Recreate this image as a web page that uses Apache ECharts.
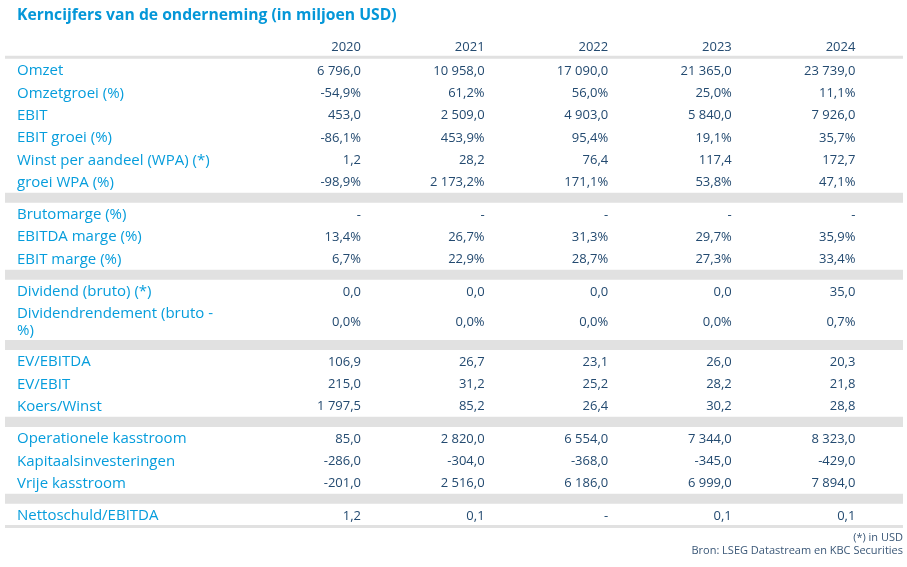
<!DOCTYPE html>
<html>
<head>
<meta charset="utf-8">
<script src="https://cdn.jsdelivr.net/npm/echarts@6/dist/echarts.min.js"></script>
<style>html,body{margin:0;padding:0;background:#fff;}#chart{width:907px;height:567px;}</style>
</head>
<body>
<div id="chart"></div>
<script>
// ---- data ----
var years = ['2020', '2021', '2022', '2023', '2024'];
var rowLabels = [
  'Omzet', 'Omzetgroei (%)', 'EBIT', 'EBIT groei (%)', 'Winst per aandeel (WPA) (*)', 'groei WPA (%)',
  'Brutomarge (%)', 'EBITDA marge (%)', 'EBIT marge (%)',
  'Dividend (bruto) (*)', 'Dividendrendement (bruto -\n%)',
  'EV/EBITDA', 'EV/EBIT', 'Koers/Winst',
  'Operationele kasstroom', 'Kapitaalsinvesteringen', 'Vrije kasstroom',
  'Nettoschuld/EBITDA'
];
var percentRows = [false, true, false, true, false, true, true, true, true, false, true, false, false, false, false, false, false, false];
var sectionSizes = [6, 3, 2, 3, 3, 1];
var tallRows = [10];
var v2020 = [6796.0, -54.9, 453.0, -86.1, 1.2, -98.9, null, 13.4, 6.7, 0.0, 0.0, 106.9, 215.0, 1797.5, 85.0, -286.0, -201.0, 1.2];
var v2021 = [10958.0, 61.2, 2509.0, 453.9, 28.2, 2173.2, null, 26.7, 22.9, 0.0, 0.0, 26.7, 31.2, 85.2, 2820.0, -304.0, 2516.0, 0.1];
var v2022 = [17090.0, 56.0, 4903.0, 95.4, 76.4, 171.1, null, 31.3, 28.7, 0.0, 0.0, 23.1, 25.2, 26.4, 6554.0, -368.0, 6186.0, null];
var v2023 = [21365.0, 25.0, 5840.0, 19.1, 117.4, 53.8, null, 29.7, 27.3, 0.0, 0.0, 26.0, 28.2, 30.2, 7344.0, -345.0, 6999.0, 0.1];
var v2024 = [23739.0, 11.1, 7926.0, 35.7, 172.7, 47.1, null, 35.9, 33.4, 35.0, 0.7, 20.3, 21.8, 28.8, 8323.0, -429.0, 7894.0, 0.1];
var yearValues = [v2020, v2021, v2022, v2023, v2024];
var titleText = 'Kerncijfers van de onderneming (in miljoen USD)';
var footnoteLines = ['(*) in USD', 'Bron: LSEG Datastream en KBC Securities'];

// ---- layout (in row units) ----
var BAND = 0.45, TALL = 1.7;
var rowY = [], bandY = [];
var cursor = 0.58; // top of first row (header centre = 0)
var idx = 0;
sectionSizes.forEach(function (n, s) {
  for (var k = 0; k < n; k++) {
    var h = tallRows.indexOf(idx) >= 0 ? TALL : 1;
    rowY.push(cursor + h / 2);
    cursor += h;
    idx++;
  }
  if (s < sectionSizes.length - 1) {
    bandY.push(cursor + BAND / 2);
    cursor += BAND;
  }
});
var lineY = [0.5, cursor + 0.02];
var X_MAX = 7.265, LABEL_X = 0.097, FIRST_COL = 2.88;

function fmt(v, pct) {
  if (v === null || v === undefined) return '-';
  var neg = v < 0;
  var s = Math.abs(v).toFixed(1).split('.');
  var intPart = s[0].replace(/\B(?=(\d{3})+(?!\d))/g, ' ');
  return (neg ? '-' : '') + intPart + ',' + s[1] + (pct ? '%' : '');
}

var labelColor = '#069ddc';
var titleColor = '#0497d8';
var valueColor = '#234a70';
var footColor = '#3a5777';
var bandColor = '#e1e1e1';
var FONT = '"Open Sans", sans-serif';

var series = [];
// gray separator bands
series.push({
  type: 'custom', silent: true, clip: false, z: 1,
  data: bandY.map(function (y) { return [y, BAND]; }),
  renderItem: function (params, api) {
    var y = api.value(0), h = api.value(1);
    var p0 = api.coord([0, y - h / 2]);
    var p1 = api.coord([X_MAX, y + h / 2]);
    return { type: 'rect', shape: { x: p0[0], y: p0[1], width: p1[0] - p0[0], height: p1[1] - p0[1] }, style: { fill: bandColor } };
  }
});
// header/bottom lines
series.push({
  type: 'custom', silent: true, clip: false, z: 1,
  data: lineY.map(function (y) { return [y]; }),
  renderItem: function (params, api) {
    var p0 = api.coord([0, api.value(0)]);
    var p1 = api.coord([X_MAX, api.value(0)]);
    return { type: 'rect', shape: { x: p0[0], y: p0[1] - 1.5, width: p1[0] - p0[0], height: 3 }, style: { fill: bandColor } };
  }
});
// row labels
series.push({
  type: 'custom', silent: true, clip: false, z: 3,
  data: rowLabels.map(function (l, i) { return [LABEL_X, rowY[i]]; }),
  renderItem: function (params, api) {
    var p = api.coord([api.value(0), api.value(1)]);
    return { type: 'text', x: p[0], y: p[1] + 1, style: { text: rowLabels[params.dataIndex], fill: labelColor, fontSize: 15, fontFamily: FONT, lineHeight: 17, align: 'left', verticalAlign: 'middle' } };
  }
});
// year headers
series.push({
  type: 'custom', silent: true, clip: false, z: 3,
  data: years.map(function (y, c) { return [FIRST_COL + c, 0]; }),
  renderItem: function (params, api) {
    var p = api.coord([api.value(0), api.value(1)]);
    return { type: 'text', x: p[0], y: p[1] + 1, style: { text: years[params.dataIndex], fill: valueColor, fontSize: 13, fontFamily: FONT, align: 'right', verticalAlign: 'middle' } };
  }
});
// value columns
yearValues.forEach(function (vals, c) {
  series.push({
    type: 'custom', name: years[c], silent: true, clip: false, z: 3,
    data: vals.map(function (v, i) { return [FIRST_COL + c, rowY[i], v === null ? '-' : v]; }),
    renderItem: function (params, api) {
      var i = params.dataIndex;
      var p = api.coord([api.value(0), api.value(1)]);
      return { type: 'text', x: p[0], y: p[1] + 1, style: { text: fmt(vals[i], percentRows[i]), fill: valueColor, fontSize: 13, fontFamily: FONT, align: 'right', verticalAlign: 'middle' } };
    }
  });
});

var chart = echarts.init(document.getElementById('chart'), null, { renderer: 'canvas' });
chart.setOption({
  backgroundColor: '#fff',
  animation: false,
  title: {
    text: titleText, left: 17, top: 8, padding: 0,
    textStyle: { color: titleColor, fontSize: 15.7, fontWeight: 'bold', fontFamily: FONT }
  },
  grid: { left: 5, right: 4, top: 46, height: 22 * 22.3 },
  xAxis: { type: 'value', min: 0, max: X_MAX, show: false },
  yAxis: { type: 'value', min: 0, max: 22, inverse: true, show: false },
  graphic: footnoteLines.map(function (t, i) {
    return {
      type: 'text', right: 4, top: 532 + i * 13,
      style: { text: t, fill: footColor, fontSize: 11, fontFamily: FONT }
    };
  }),
  series: series
});
</script>
</body>
</html>
